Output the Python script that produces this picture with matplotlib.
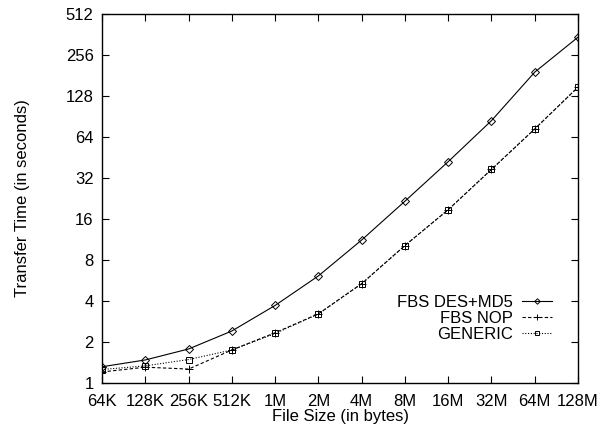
import numpy as np
import matplotlib
matplotlib.use('Agg')
import matplotlib.pyplot as plt
from matplotlib.ticker import FixedLocator, FixedFormatter, NullLocator

plt.rcParams['font.family'] = ['Liberation Sans', 'DejaVu Sans']

sizes = ['64K', '128K', '256K', '512K', '1M', '2M', '4M', '8M', '16M', '32M', '64M', '128M']
des_md5 = [1.31, 1.47, 1.77, 2.4, 3.7, 6.1, 11.2, 21.6, 42.2, 84.5, 192, 347]
nop = [1.2, 1.30, 1.26, 1.74, 2.33, 3.21, 5.35, 10.2, 18.7, 37, 73.4, 149]
generic = [1.25, 1.33, 1.48, 1.74, 2.3, 3.2, 5.35, 10.2, 18.7, 37, 73.4, 149]
yticks = [1, 2, 4, 8, 16, 32, 64, 128, 256, 512]

fig = plt.figure(figsize=(6.04, 4.30), dpi=100)
ax = fig.add_axes([0.169, 0.110, 0.788, 0.857])

x = np.arange(len(sizes))
ax.plot(x, des_md5, color='black', lw=0.8, ls='-', marker='D', ms=4,
        mfc='none', mew=0.7, label='FBS DES+MD5')
ax.plot(x, nop, color='black', lw=0.8, ls=(0, (3, 2)), marker='+', ms=6,
        mew=0.7, label='FBS NOP')
ax.plot(x, generic, color='black', lw=0.8, ls=(0, (1, 1.5)), marker='s', ms=5,
        mfc='none', mew=0.7, label='GENERIC')

ax.set_yscale('log', base=2)
ax.set_ylim(1, 512)
ax.set_xlim(0, len(sizes) - 1)
ax.yaxis.set_major_locator(FixedLocator(yticks))
ax.yaxis.set_major_formatter(FixedFormatter([str(v) for v in yticks]))
ax.yaxis.set_minor_locator(NullLocator())
ax.set_xticks(x)
ax.set_xticklabels(sizes)

ax.tick_params(direction='in', top=True, right=True, length=5, width=0.8,
               labelsize=12, pad=6)
ax.tick_params(axis='x', pad=8)
for s in ax.spines.values():
    s.set_linewidth(1.0)

ax.set_xlabel('File Size (in bytes)', fontsize=12, labelpad=0)
ax.set_ylabel('Transfer Time (in seconds)', fontsize=12, labelpad=26)

leg = ax.legend(loc='lower right', bbox_to_anchor=(0.962, 0.089), frameon=False,
                markerfirst=False, fontsize=12, handlelength=1.8, markerscale=0.7,
                labelspacing=0.05, handletextpad=0.5, borderpad=0)

fig.savefig('out.png', dpi=100)
